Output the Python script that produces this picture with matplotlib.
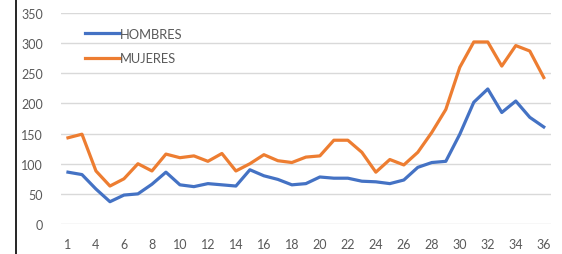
import matplotlib
matplotlib.use("Agg")
from matplotlib import pyplot as plt
from matplotlib.lines import Line2D

# weeks on the category axis (35 points, labels every other one)
semanas = [1] + list(range(3, 37))

hombres = [86, 82, 58, 37, 48, 50, 66, 86, 65, 62, 67, 65, 63, 90, 80, 74, 65, 67,
           78, 76, 76, 71, 70, 67, 73, 94, 102, 104, 149, 202, 224, 185, 204, 177, 161]
mujeres = [143, 149, 88, 63, 75, 100, 88, 116, 110, 113, 104, 117, 88, 100, 115, 105, 102, 111,
           113, 139, 139, 119, 86, 107, 98, 119, 152, 190, 260, 302, 302, 262, 296, 287, 243]

y_ticks = [0, 50, 100, 150, 200, 250, 300, 350]

AZUL = '#4472C4'
NARANJA = '#ED7D31'
GRIS = '#595959'

plt.rcParams['font.family'] = ['Lato', 'DejaVu Sans']

fig = plt.figure(figsize=(5.62, 2.55), dpi=100)
ax = fig.add_axes([0.1085, 0.1176, 0.8715, 0.8274])

x = list(range(len(semanas)))
ax.plot(x, hombres, color=AZUL, lw=2.3, label='HOMBRES', solid_joinstyle='round')
ax.plot(x, mujeres, color=NARANJA, lw=2.3, label='MUJERES', solid_joinstyle='round')

ax.set_xlim(-0.5, len(semanas) - 0.5)
ax.set_ylim(0, 350)
ax.set_yticks(y_ticks)
ax.set_xticks(x[::2])
ax.set_xticklabels([str(s) for s in semanas[::2]])

for yv in y_ticks:
    ax.axhline(yv, color='#D9D9D9', lw=1, zorder=0)

for s in ax.spines.values():
    s.set_visible(False)
ax.tick_params(length=0, labelsize=9, labelcolor=GRIS)
ax.tick_params(axis='y', pad=13)
ax.tick_params(axis='x', pad=10)

leg = ax.legend(loc='upper left', bbox_to_anchor=(0.025, 0.985), frameon=False,
                fontsize=9.3, handlelength=2.7, handletextpad=0.05, labelspacing=0.95)
for t in leg.get_texts():
    t.set_color(GRIS)

# black border line at the left of the picture
fig.add_artist(Line2D([16 / 562, 16 / 562], [0, 1], color='black', lw=1.2))

plt.savefig('out.png', dpi=100)
